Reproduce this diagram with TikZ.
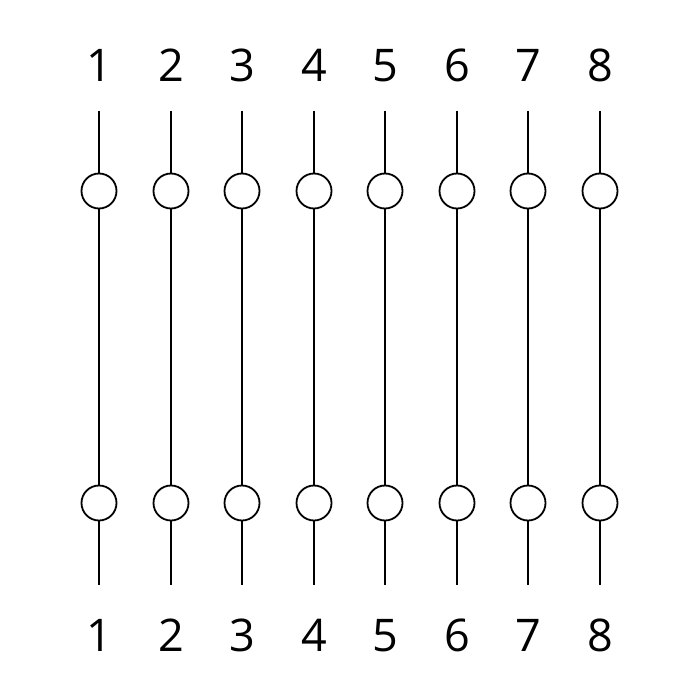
\documentclass[tikz,border=0pt]{standalone}
\usepackage{fontspec}
\setmainfont{Open Sans}
\usetikzlibrary{positioning}

\begin{document}
\begin{tikzpicture}[x=1pt,y=-1pt]
	\tikzset{pin/.style = {shape=circle,draw,fill=white,minimum size=35pt,
			inner sep = 0pt, line width=1.8pt}}
	\tikzset{wire/.style = {line width=1.8pt}}
	\tikzset{num/.style = {font=\fontsize{45}{45}\selectfont, inner sep = 0pt,
			anchor=base}}
	\useasboundingbox (0,0) rectangle (700,700);
	
	% columns
	\foreach \i in {1,...,8}
	{
		\pgfmathtruncatemacro{\x}{round(99+71.57*(\i-1))}
		\node[num] (t\i) at (\x,82) {\i};
		\coordinate (a\i) at (\x,111);
		\node[pin] (u\i) at (\x,191) {};
		\node[pin] (l\i) at (\x,503) {};
		\coordinate (b\i) at (\x,585);
		\node[num] (d\i) at (\x,651) {\i};
		
		%wires
		\draw[wire] (a\i) -- (u\i) -- (l\i) -- (b\i);
	}
\end{tikzpicture}
\end{document}
